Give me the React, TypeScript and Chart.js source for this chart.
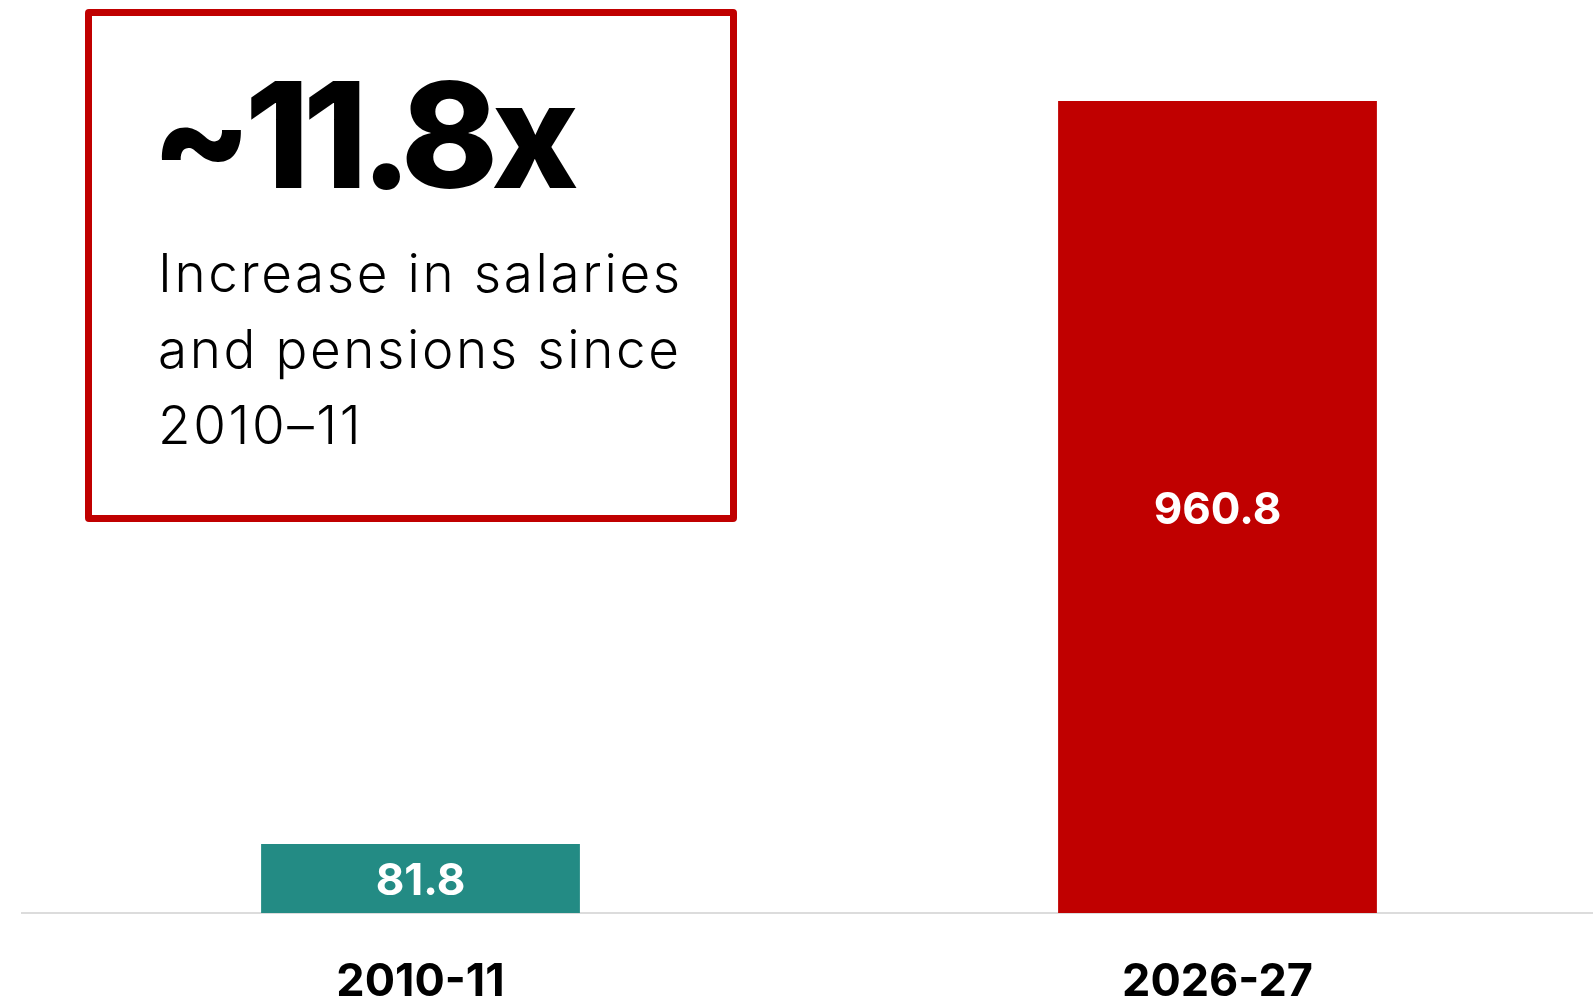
import React, { useEffect, useRef } from "react";
import { Chart, registerables } from "chart.js";

Chart.register(...registerables);

const categories = ["2010-11", "2026-27"];
const values = [81.8, 960.8];
const barColors = ["#238B84", "#C00000"];
const valueLabels = ["81.8", "960.8"];
const headline = "~11.8x";
const subText = ["Increase in salaries", "and pensions since", "2010–11"];

const CANVAS_W = 1640;
const CANVAS_H = 1040;

const valueLabelPlugin = {
  id: "valueLabels",
  afterDatasetsDraw(chart: any) {
    const ctx = chart.ctx;
    const meta = chart.getDatasetMeta(0);
    ctx.save();
    ctx.fillStyle = "#ffffff";
    ctx.font = "700 44px Inter";
    ctx.textAlign = "center";
    ctx.textBaseline = "alphabetic";
    meta.data.forEach((bar: any, i: number) => {
      const p = bar.getProps(["x", "y", "base"], true);
      ctx.fillText(valueLabels[i], p.x, (p.y + p.base) / 2 + 17);
    });
    ctx.restore();
  },
};

export default function App() {
  const ref = useRef<HTMLCanvasElement | null>(null);

  useEffect(() => {
    if (!ref.current) return;
    const chart = new Chart(ref.current, {
      type: "bar",
      data: {
        labels: categories,
        datasets: [
          {
            data: values,
            backgroundColor: barColors,
            borderWidth: 0,
            barPercentage: 0.4,
            categoryPercentage: 1,
          },
        ],
      },
      options: {
        responsive: false,
        animation: false,
        devicePixelRatio: 1,
        layout: { padding: { left: 22, right: 24, top: 68, bottom: 0 } },
        plugins: {
          legend: { display: false },
          tooltip: { enabled: false },
          title: { display: false },
        },
        scales: {
          x: {
            type: "category",
            offset: true,
            grid: { display: false, drawTicks: false },
            border: { display: true, color: "#dcdcdc", width: 2 },
            ticks: {
              color: "#000000",
              font: { family: "Inter", size: 45, weight: "700" },
              padding: 42,
              maxRotation: 0,
              autoSkip: false,
            },
            afterFit: (s: any) => {
              s.height = 127;
            },
          },
          y: {
            display: false,
            min: 0,
            max: 1000,
            grid: { display: false },
          },
        },
      },
      plugins: [valueLabelPlugin],
    });
    return () => chart.destroy();
  }, []);

  return (
    <div
      style={{
        position: "fixed",
        left: 0,
        top: 0,
        width: "100vw",
        height: "100vh",
        overflow: "hidden",
        background: "#ffffff",
      }}
    >
      <canvas
        ref={ref}
        width={CANVAS_W}
        height={CANVAS_H}
        style={{ position: "absolute", left: 0, top: 0, width: CANVAS_W, height: CANVAS_H }}
      />
      <div
        style={{
          position: "absolute",
          left: 85,
          top: 9,
          width: 652,
          height: 513,
          boxSizing: "border-box",
          border: "7px solid #C00000",
          borderRadius: 4,
        }}
      />
      <div
        style={{
          position: "absolute",
          left: 151,
          top: 61,
          fontFamily: "Inter",
          fontWeight: 800,
          fontSize: 147,
          lineHeight: "147px",
          letterSpacing: -7,
          color: "#000",
          whiteSpace: "nowrap",
        }}
      >
        {headline}
      </div>
      <div
        style={{
          position: "absolute",
          left: 158,
          top: 235,
          fontFamily: "Inter",
          fontWeight: 300,
          fontSize: 53,
          lineHeight: "76px",
          letterSpacing: 2.6,
          color: "#000",
          whiteSpace: "nowrap",
        }}
      >
        {subText.map((t, i) => (
          <div key={i}>{t}</div>
        ))}
      </div>
    </div>
  );
}
